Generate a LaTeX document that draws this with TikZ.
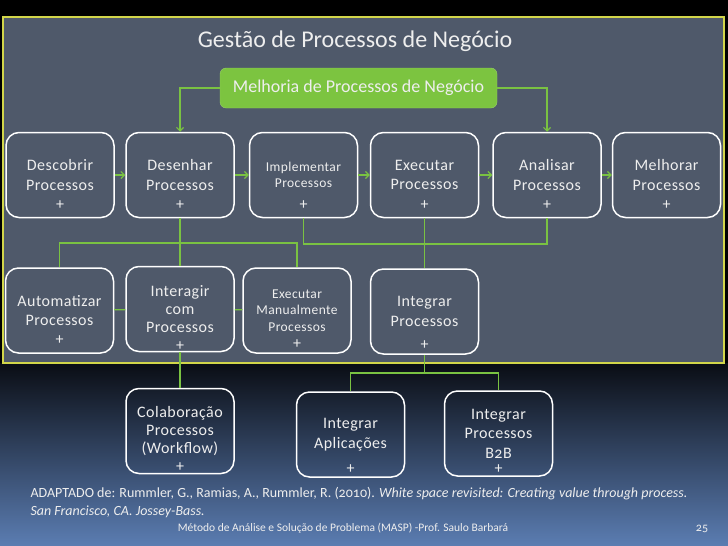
\documentclass[tikz,border=0pt]{standalone}
\usepackage{fontspec}
\setmainfont{Carlito}[Numbers=OldStyle]
\newfontfamily\boxfont{Carlito}[LetterSpace=3, Numbers=OldStyle]
\usepackage{tikz}
\usetikzlibrary{arrows.meta}

\definecolor{panel}{RGB}{79,89,106}
\definecolor{rim}{RGB}{210,214,74}
\definecolor{lgreen}{RGB}{122,194,66}
\definecolor{boxgreen}{RGB}{124,196,64}
\definecolor{txt}{RGB}{238,238,238}
\definecolor{deepblue}{RGB}{10,13,20}
\definecolor{lowblue}{RGB}{91,125,178}

\begin{document}
\begin{tikzpicture}[x=1pt, y=-1pt,
    every node/.style={text=txt},
    proc/.style={draw=white, line width=1.5pt, rounded corners=13pt,
        minimum width=108pt, minimum height=85pt, align=center,
        font=\boxfont\fontsize{16}{19.5}\selectfont, label={[plus, yshift=#1]south:+}},
    proc/.default=9pt,
    small/.style={font=\boxfont\fontsize{13.5}{16.5}\selectfont},
    tight/.style={font=\boxfont\fontsize{16}{18}\selectfont},
    plus/.style={anchor=south, inner sep=0pt,
        font=\boxfont\fontsize{16}{16}\selectfont},
    link/.style={draw=lgreen, line width=1.2pt},
    flow/.style={link, -{Straight Barb[length=3.5pt, width=7pt]}}]
    \useasboundingbox (0,0) rectangle (728,546);
    \fill[black] (0,0) rectangle (728,546);
    \shade[top color=deepblue, bottom color=lowblue] (0,363) rectangle (728,546);
    \draw[draw=rim, fill=panel, line width=2pt] (3,17) rectangle (724,363);

    \node (title) at (355,41) {\fontsize{24}{28}\selectfont Gestão de Processos de Negócio};
    \node[fill=boxgreen, draw=boxgreen!80!white, rounded corners=6pt,
        minimum width=277pt, minimum height=40pt, font=\fontsize{18}{21}\selectfont]
        (melhoria) at (358.5,88) {Melhoria de Processos de Negócio};

    % first row
    \node[proc] (descobrir) at (60,175) {Descobrir\\Processos};
    \node[proc] (desenhar) at (180,175) {Desenhar\\Processos};
    \node[proc, small] (implementar) at (303.5,175) {Implementar\\Processos};
    \node[proc] (executar) at (424.5,175) {Executar\\Processos};
    \node[proc] (analisar) at (547,175) {Analisar\\Processos};
    \node[proc] (melhorar) at (666.5,175) {Melhorar\\Processos};

    % second row
    \node[proc] (automatizar) at (59.5,310.5) {Automatizar\\Processos};
    \node[proc=2pt, tight] (interagir) at (180,309) {Interagir\\com\\Processos};
    \node[proc=5pt, small] (execman) at (297,310.5) {Executar\\Manualmente\\Processos};
    \node[proc=5pt] (integrar) at (424.5,311.5) {Integrar\\Processos};

    % third row
    \node[proc=3pt, tight] (colaboracao) at (180,431) {Colaboração\\Processos\\(Workflow)};
    \node[proc=4pt] (aplicacoes) at (350.5,434.5) {Integrar\\Aplicações};
    \node[proc=3pt] (b2b) at (498.5,433.5) {Integrar\\Processos\\B2B};

    \coordinate (jl) at (180,243);
    \coordinate (jr) at (424.5,244);
    \coordinate (jb) at (424.5,373);

    \draw[flow] (melhoria.west) -| (desenhar.north);
    \draw[flow] (melhoria.east) -| (analisar.north);
    \draw[flow] (descobrir) -- (desenhar);
    \draw[flow] (desenhar) -- (implementar);
    \draw[flow] (implementar) -- (executar);
    \draw[flow] (executar) -- (analisar);
    \draw[flow] (analisar) -- (melhorar);

    \draw[link] (desenhar) -- (interagir);
    \draw[link] (automatizar.north) |- (jl) -| (execman.north);
    \draw[link] (implementar.south) |- (jr) -| (analisar.south);
    \draw[link] (executar) -- (integrar);
    \draw[link] (automatizar) -- (interagir);
    \draw[link] (interagir) -- (execman);
    \draw[link] (interagir) -- (colaboracao);
    \draw[link] (integrar) -- (jb);
    \draw[link] (aplicacoes.north) |- (jb) -| (b2b.north);

    % source and footer
    \node[anchor=west, font=\fontsize{14}{16}\selectfont] (fonte) at (27,494)
        {ADAPTADO de: Rummler, G., Ramias, A., Rummler, R. (2010). \textit{White space revisited: Creating value through process.}};
    \node[anchor=west, font=\fontsize{14}{16}\selectfont] (local) at (27,512)
        {\textit{San Francisco, CA. Jossey-Bass.}};
    \node[font=\fontsize{11.5}{13}\selectfont] (rodape) at (343,528)
        {Método de Análise e Solução de Problema (MASP) -Prof. Saulo Barbará};
    \node[font=\fontsize{12}{14}\selectfont] (pagina) at (702,529) {25};
\end{tikzpicture}
\end{document}
